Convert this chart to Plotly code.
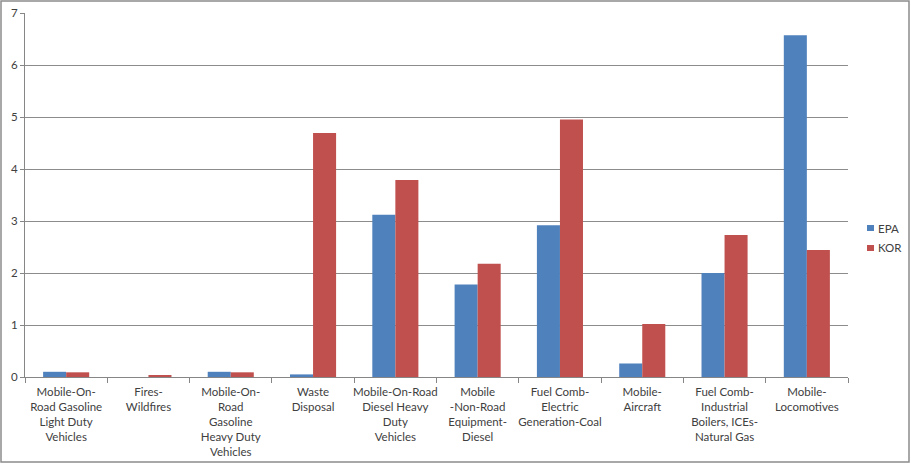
import plotly.graph_objects as go

categories = [
    "Mobile-On-<br>Road Gasoline<br>Light Duty<br>Vehicles",
    "Fires-<br>Wildfires",
    "Mobile-On-<br>Road<br>Gasoline<br>Heavy Duty<br>Vehicles",
    "Waste<br>Disposal",
    "Mobile-On-Road<br>Diesel Heavy<br>Duty<br>Vehicles",
    "Mobile<br>-Non-Road<br>Equipment-<br>Diesel",
    "Fuel Comb-<br>Electric<br>Generation-Coal",
    "Mobile-<br>Aircraft",
    "Fuel Comb-<br>Industrial<br>Boilers, ICEs-<br>Natural Gas",
    "Mobile-<br>Locomotives",
]
series_names = ["EPA", "KOR"]
epa = [0.10, 0.0, 0.10, 0.05, 3.12, 1.78, 2.92, 0.26, 2.00, 6.57]
kor = [0.09, 0.02, 0.09, 4.69, 3.79, 2.18, 4.95, 1.02, 2.73, 2.44]
colors = ["#4F81BD", "#C0504D"]
y_ticks = [0, 1, 2, 3, 4, 5, 6, 7]

W, H = 911, 464
ML, MR, MT, MB = 25, 63, 13, 87
pw = W - ML - MR
ph = H - MT - MB

fig = go.Figure()
for name, vals, col in zip(series_names, [epa, kor], colors):
    fig.add_trace(go.Bar(name=name, x=categories, y=vals, marker_color=col, marker_line_width=0))

font = dict(family="Lato, Carlito, Calibri, sans-serif", size=11.5, color="#404040")


def px_x(x):
    return (x - ML) / pw


def px_y(y):
    return (H - MB - y) / ph


shapes = [dict(type="rect", xref="paper", yref="paper",
               x0=px_x(1), x1=px_x(W - 2), y0=px_y(H - 2), y1=px_y(1),
               line=dict(color="#8c8c8c", width=1.5), fillcolor="rgba(0,0,0,0)", layer="below")]
annotations = []
legend_y = [228, 248]
for name, col, ly in zip(series_names, colors, legend_y):
    shapes.append(dict(type="rect", xref="paper", yref="paper",
                       x0=px_x(867), x1=px_x(874), y0=px_y(ly + 3), y1=px_y(ly - 3),
                       line=dict(width=0), fillcolor=col))
    annotations.append(dict(xref="paper", yref="paper", x=px_x(876), y=px_y(ly),
                            xanchor="left", yanchor="middle", text=name, showarrow=False,
                            font=font))

fig.update_layout(
    width=W, height=H,
    margin=dict(l=ML, r=MR, t=MT, b=MB, autoexpand=False),
    paper_bgcolor="white", plot_bgcolor="white",
    barmode="group", bargap=0.44, bargroupgap=0,
    font=font,
    showlegend=False,
    xaxis=dict(type="category", tickson="boundaries", ticks="outside", ticklen=5,
               tickcolor="#868686", showline=True, linecolor="#868686", linewidth=1,
               showgrid=False, tickfont=font, tickangle=0, automargin=False,
               ticklabelstandoff=4),
    yaxis=dict(range=[0, 7], tickvals=y_ticks, ticks="outside", ticklen=4,
               tickcolor="#868686", showline=True, linecolor="#868686", linewidth=1,
               showgrid=True, gridcolor="#8c8c8c", gridwidth=1, zeroline=False,
               tickfont=font, automargin=False),
    shapes=shapes,
    annotations=annotations,
)

fig.write_html("out.html", config={"displayModeBar": False},
               post_script="document.body.style.margin='0';document.body.style.overflow='hidden';")
